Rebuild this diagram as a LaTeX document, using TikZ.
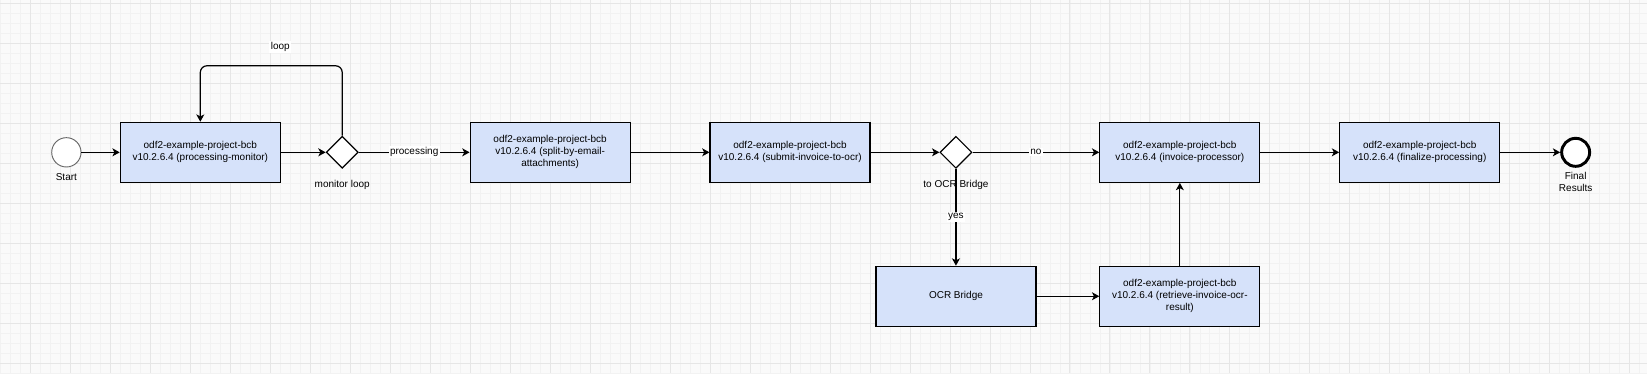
\documentclass[tikz,border=0pt]{standalone}
\usepackage{fontspec}
\setmainfont{Liberation Sans}
\usetikzlibrary{shapes.geometric,arrows.meta}
\definecolor{taskfill}{HTML}{D6E2FA}
\definecolor{paper}{HTML}{FAFAFA}
\definecolor{minorgrid}{HTML}{F2F2F2}
\definecolor{majorgrid}{HTML}{E6E6E6}
\begin{document}
\begin{tikzpicture}[x=0.75pt,y=0.75pt,
  every node/.style={font=\fontsize{7.5}{9}\selectfont},
  task/.style={draw,line width=0.9pt,fill=taskfill,minimum width=120pt,minimum height=45pt,inner sep=0pt,align=center},
  gate/.style={draw,line width=0.9pt,fill=white,diamond,minimum width=24pt,minimum height=24pt,inner sep=0pt},
  flow/.style={line width=0.9pt,-{Stealth[length=5.5pt,width=6pt,inset=1.5pt]}},
  lbl/.style={fill=white,inner sep=1pt}]
  % background and grid
  \fill[paper] (0,0) rectangle (1647,-373);
  \foreach \gx in {0,10,...,1640} \draw[minorgrid,line width=0.5pt] (\gx,0) -- (\gx,-373);
  \foreach \gy in {3,13,...,373} \draw[minorgrid,line width=0.5pt] (0,-\gy) -- (1647,-\gy);
  \foreach \gx in {30,70,...,1630} \draw[majorgrid,line width=0.6pt] (\gx,0) -- (\gx,-373);
  \foreach \gy in {3,43,...,363} \draw[majorgrid,line width=0.6pt] (0,-\gy) -- (1647,-\gy);
  \useasboundingbox (0,0) rectangle (1647,-373);
  % events
  \node[circle,draw=black!60,line width=0.7pt,fill=white,minimum size=22pt,inner sep=0pt] (start) at (66,-152) {};
  \node (startlbl) at (66,-177) {Start};
  \node[circle,draw,line width=2.2pt,fill=white,minimum size=21pt,inner sep=0pt] (end) at (1576,-152) {};
  \node[align=center] (endlbl) at (1576,-182) {Final\\Results};
  % tasks
  \node[task] (monitor) at (200,-152) {odf2-example-project-bcb\\v10.2.6.4 (processing-monitor)};
  \node[task] (split) at (550,-152) {odf2-example-project-bcb\\v10.2.6.4 (split-by-email-\\attachments)};
  \node[task] (submit) at (790,-152) {odf2-example-project-bcb\\v10.2.6.4 (submit-invoice-to-ocr)};
  \node[task] (invoice) at (1180,-152) {odf2-example-project-bcb\\v10.2.6.4 (invoice-processor)};
  \node[task] (finalize) at (1420,-152) {odf2-example-project-bcb\\v10.2.6.4 (finalize-processing)};
  \node[task] (bridge) at (956,-296) {OCR Bridge};
  \node[task] (retrieve) at (1180,-296) {odf2-example-project-bcb\\v10.2.6.4 (retrieve-invoice-ocr-\\result)};
  % gateways
  \node[gate] (loopgate) at (342,-152) {};
  \node (loopgatelbl) at (342,-185) {monitor loop};
  \node[gate] (ocrgate) at (956,-152) {};
  \node (ocrgatelbl) at (956,-185) {to OCR Bridge};
  % connectors
  \draw[flow] (start) -- (monitor);
  \draw[flow] (monitor) -- (loopgate);
  \draw[flow,rounded corners=5pt] (loopgate.north) -- ++(0,70) -| (monitor.north);
  \node[lbl] (looplbl) at (280,-47) {loop};
  \draw[flow] (loopgate) -- node[lbl] (proclbl) {processing} (split);
  \draw[flow] (split) -- (submit);
  \draw[flow] (submit) -- (ocrgate);
  \draw[flow] (ocrgate) -- node[lbl] (nolbl) {no} (invoice);
  \draw[flow] (ocrgate) -- node[lbl] (yeslbl) {yes} (bridge);
  \draw[flow] (bridge) -- (retrieve);
  \draw[flow] (retrieve) -- (invoice);
  \draw[flow] (invoice) -- (finalize);
  \draw[flow] (finalize) -- (end);
\end{tikzpicture}
\end{document}
